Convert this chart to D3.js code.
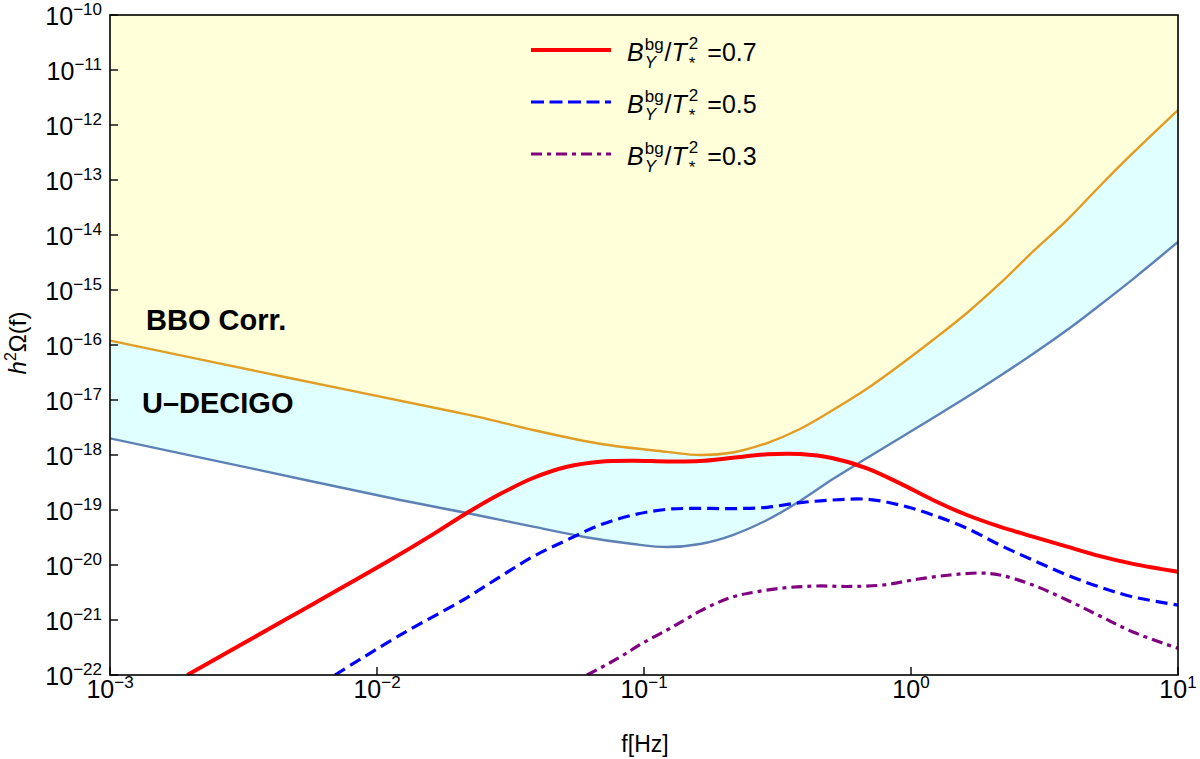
<!DOCTYPE html>
<html>
<head>
<meta charset="utf-8">
<script src="https://cdn.jsdelivr.net/npm/d3@7"></script>
<style>
  body { margin: 0; background: #fff; }
  text { font-family: "Liberation Sans", Arial, sans-serif; fill: #000; }
</style>
</head>
<body>
<script>
var width = 1200, height = 759;

// detector sensitivity curves
const bboFreq  = [1e-3, 4.33e-3, 1.88e-2, 2.58e-2, 3.84e-2, 6.84e-2, 0.122, 0.162, 0.215, 0.289, 0.384, 0.510, 0.684, 0.910, 1.208, 1.62, 2.15, 2.86, 3.84, 5.10, 6.78, 10];
const bboOmega = [1.20e-16, 2.73e-17, 6.31e-18, 4.55e-18, 2.85e-18, 1.60e-18, 1.14e-18, 1.0e-18, 1.11e-18, 1.65e-18, 2.97e-18, 6.58e-18, 1.60e-17, 4.33e-17, 1.23e-16, 3.82e-16, 1.30e-15, 4.98e-15, 1.87e-14, 7.78e-14, 3.10e-13, 1.87e-12];

const decigoFreq  = [1e-3, 3.49e-3, 1.22e-2, 2.17e-2, 3.84e-2, 5.91e-2, 9.10e-2, 0.122, 0.162, 0.215, 0.289, 0.384, 0.510, 0.684, 0.910, 1.208, 1.62, 2.15, 2.86, 3.84, 5.10, 6.78, 10];
const decigoOmega = [2.01e-18, 5.52e-19, 1.52e-19, 8.82e-20, 4.98e-20, 3.27e-20, 2.41e-20, 2.12e-20, 2.41e-20, 3.51e-20, 6.58e-20, 1.46e-19, 3.66e-19, 8.8e-19, 2.04e-18, 4.71e-18, 1.13e-17, 2.73e-17, 6.86e-17, 1.87e-16, 5.33e-16, 1.58e-15, 7.46e-15];

// signal spectra, B_Y^bg / T_*^2 = 0.7, 0.5, 0.3
const freq07  = [1.948e-3, 4.72e-3, 1.12e-2, 1.62e-2, 2.17e-2, 2.89e-2, 3.84e-2, 5.15e-2, 6.84e-2, 9.10e-2, 0.122, 0.162, 0.215, 0.289, 0.384, 0.510, 0.684, 0.910, 1.208, 1.62, 2.15, 2.86, 3.84, 5.10, 6.78, 10];
const omega07 = [1e-22, 1.13e-21, 1.23e-20, 3.60e-20, 8.82e-20, 1.95e-19, 3.82e-19, 6.12e-19, 7.55e-19, 7.87e-19, 7.62e-19, 7.75e-19, 8.89e-19, 1.03e-18, 1.04e-18, 8.71e-19, 5.73e-19, 3.05e-19, 1.52e-19, 8.11e-20, 4.98e-20, 3.27e-20, 2.16e-20, 1.45e-20, 1.05e-20, 7.55e-21];

const freq05  = [6.96e-3, 1.22e-2, 2.10e-2, 2.89e-2, 3.84e-2, 5.15e-2, 6.84e-2, 9.10e-2, 0.122, 0.162, 0.215, 0.289, 0.384, 0.510, 0.684, 0.910, 1.208, 1.62, 2.15, 2.86, 3.84, 5.10, 6.78, 10];
const omega05 = [1e-22, 5.33e-22, 2.31e-21, 6.12e-21, 1.42e-20, 2.85e-20, 5.33e-20, 8.11e-20, 1.03e-19, 1.07e-19, 1.06e-19, 1.12e-19, 1.36e-19, 1.52e-19, 1.57e-19, 1.23e-19, 8.11e-20, 4.65e-20, 2.31e-20, 1.23e-20, 6.58e-21, 3.97e-21, 2.63e-21, 1.87e-21];

const freq03  = [6.12e-2, 8.03e-2, 9.91e-2, 0.122, 0.140, 0.162, 0.188, 0.215, 0.249, 0.332, 0.444, 0.591, 0.786, 1.053, 1.40, 1.80, 2.15, 2.86, 3.84, 5.10, 6.78, 10];
const omega03 = [1e-22, 2.04e-22, 3.82e-22, 6.58e-22, 9.60e-22, 1.45e-21, 2.05e-21, 2.63e-21, 3.10e-21, 3.82e-21, 4.15e-21, 4.07e-21, 4.33e-21, 5.5e-21, 6.58e-21, 7.16e-21, 6.58e-21, 4.33e-21, 2.31e-21, 1.18e-21, 6.05e-22, 3.05e-22];

const xTickExp = [-3, -2, -1, 0, 1];
const yTickExp = [-10, -11, -12, -13, -14, -15, -16, -17, -18, -19, -20, -21, -22];
const legendValues = ["0.7", "0.5", "0.3"];

const margin = {left: 110, right: 22, top: 15, bottom: 84};

var svg = d3.select('body').append('svg')
    .attr('width', width)
    .attr('height', height);

const x = d3.scaleLog().domain([1e-3, 10]).range([margin.left, width - margin.right]);
const y = d3.scaleLog().domain([1e-22, 1e-10]).range([height - margin.bottom, margin.top]);

const defs = svg.append('defs');
defs.append('clipPath').attr('id', 'plotclip')
    .append('rect')
    .attr('x', x.range()[0]).attr('y', y.range()[1])
    .attr('width', x.range()[1] - x.range()[0])
    .attr('height', y.range()[0] - y.range()[1]);

const pts = (f, o) => f.map((v, i) => [v, o[i]]);
const curve = d3.curveCatmullRom.alpha(0.5);

const plot = svg.append('g').attr('clip-path', 'url(#plotclip)');

// cyan band: from U-DECIGO up to the top, then the yellow from BBO up covers the rest
const areaTop = d3.area()
    .x(d => x(d[0]))
    .y0(y(1e-10))
    .y1(d => y(d[1]))
    .curve(curve);

plot.append('path')
    .datum(pts(decigoFreq, decigoOmega))
    .attr('d', areaTop)
    .attr('fill', '#e0ffff');

plot.append('path')
    .datum(pts(bboFreq, bboOmega))
    .attr('d', areaTop)
    .attr('fill', '#ffffd9');

const line = d3.line()
    .x(d => x(d[0]))
    .y(d => y(d[1]))
    .curve(curve);

plot.append('path').datum(pts(bboFreq, bboOmega))
    .attr('d', line).attr('fill', 'none')
    .attr('stroke', '#e19c24').attr('stroke-width', 2.4);

plot.append('path').datum(pts(decigoFreq, decigoOmega))
    .attr('d', line).attr('fill', 'none')
    .attr('stroke', '#5e81b5').attr('stroke-width', 2.4);

const series = [
    {f: freq07, o: omega07, color: '#ff0000', w: 4, dash: null},
    {f: freq05, o: omega05, color: '#0000ff', w: 3.2, dash: '12,6'},
    {f: freq03, o: omega03, color: '#800080', w: 3.2, dash: '11,5,4,5'}
];

series.forEach(s => {
    plot.append('path').datum(pts(s.f, s.o))
        .attr('d', line).attr('fill', 'none')
        .attr('stroke', s.color)
        .attr('stroke-width', s.w)
        .attr('stroke-dasharray', s.dash);
});

// frame
svg.append('rect')
    .attr('x', x.range()[0]).attr('y', y.range()[1])
    .attr('width', x.range()[1] - x.range()[0])
    .attr('height', y.range()[0] - y.range()[1])
    .attr('fill', 'none').attr('stroke', '#000').attr('stroke-width', 1.6);

// ticks point inwards
const gx = svg.append('g');
xTickExp.forEach(e => {
    const px = x(Math.pow(10, e));
    gx.append('line')
        .attr('x1', px).attr('x2', px)
        .attr('y1', y.range()[0]).attr('y2', y.range()[0] - 8)
        .attr('stroke', '#000').attr('stroke-width', 1.4);
    const t = gx.append('text')
        .attr('x', px).attr('y', y.range()[0] + 23)
        .attr('text-anchor', 'middle')
        .attr('font-size', 25);
    t.append('tspan').text('10');
    t.append('tspan').attr('dy', -10).attr('font-size', 17)
        .text(String(e).replace('-', '\u2212'));
});

const gy = svg.append('g');
yTickExp.forEach(e => {
    const py = y(Math.pow(10, e));
    gy.append('line')
        .attr('x1', x.range()[0]).attr('x2', x.range()[0] + 8)
        .attr('y1', py).attr('y2', py)
        .attr('stroke', '#000').attr('stroke-width', 1.4);
    const t = gy.append('text')
        .attr('x', 102).attr('y', py + 10)
        .attr('text-anchor', 'end')
        .attr('font-size', 25);
    t.append('tspan').text('10');
    t.append('tspan').attr('dy', -10).attr('font-size', 17)
        .text(String(e).replace('-', '\u2212'));
});

// axis titles
svg.append('text')
    .attr('x', 645)
    .attr('y', 752)
    .attr('text-anchor', 'middle')
    .attr('font-size', 23)
    .text('f[Hz]');

const yl = svg.append('text')
    .attr('transform', 'translate(26,343) rotate(-90)')
    .attr('text-anchor', 'middle')
    .attr('font-size', 24);
yl.append('tspan').attr('font-style', 'italic').text('h');
yl.append('tspan').attr('dy', -10).attr('font-size', 16).text('2');
yl.append('tspan').attr('dy', 10).text('\u03A9(f)');

// region labels
svg.append('text').attr('x', 146).attr('y', 330)
    .attr('font-size', 29).attr('font-weight', 'bold').text('BBO Corr.');
svg.append('text').attr('x', 142).attr('y', 413)
    .attr('font-size', 29).attr('font-weight', 'bold').text('U\u2013DECIGO');

// legend
const legend = svg.append('g');
series.forEach((s, i) => {
    const cy = 50 + i * 52;
    legend.append('line')
        .attr('x1', 531).attr('x2', 611)
        .attr('y1', cy).attr('y2', cy)
        .attr('stroke', s.color).attr('stroke-width', s.w)
        .attr('stroke-dasharray', s.w > 3.5 ? null : (i === 1 ? '13,5.5' : s.dash));

    let cx = 627;
    const base = cy + 11;
    function piece(str, size, dy, italic) {
        const el = legend.append('text')
            .attr('x', cx).attr('y', base + dy)
            .attr('font-size', size)
            .attr('font-style', italic ? 'italic' : 'normal')
            .text(str);
        return el.node().getComputedTextLength();
    }
    cx += piece('B', 25, 0, true) + 1;
    const w1 = piece('bg', 17, -11, false);
    const w2 = piece('Y', 17, 7, true);
    cx += Math.max(w1, w2) + 1;
    cx += piece('/', 25, 0, false);
    cx += piece('T', 25, 0, true) + 2;
    const w3 = piece('2', 17, -12, false);
    const w4 = piece('*', 17, 8, false);
    cx += Math.max(w3, w4) + 9;
    piece('=' + legendValues[i], 25, 0, false);
});
</script>
</body>
</html>
